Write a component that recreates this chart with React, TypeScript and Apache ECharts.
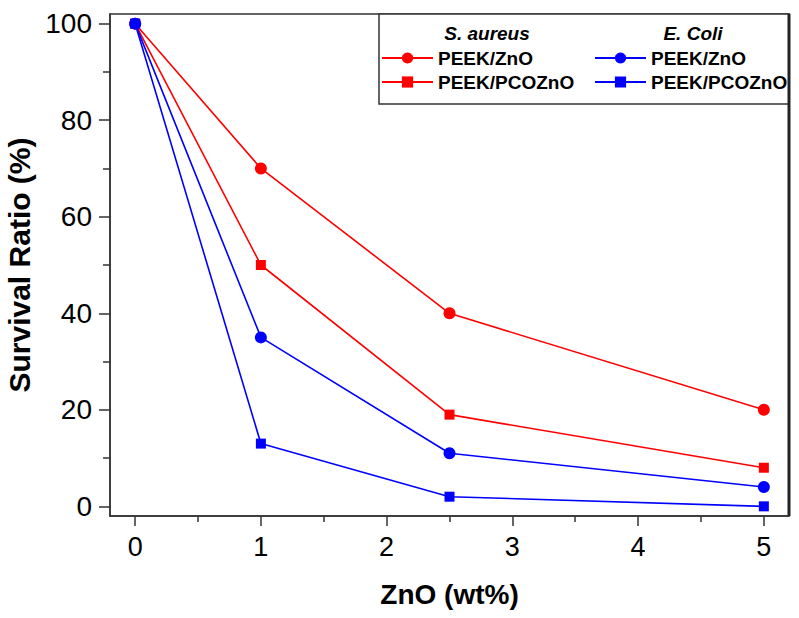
import React, { useEffect, useRef } from "react";
import * as echarts from "echarts";

const xValues = [0, 1, 2.5, 5];
const saZnO = [100, 70, 40, 20];
const saPCOZnO = [100, 50, 19, 8];
const ecZnO = [100, 35, 11, 4];
const ecPCOZnO = [100, 13, 2, 0];
const xMajorTicks = [0, 1, 2, 3, 4, 5];
const xMinorTicks = [0.5, 1.5, 2.5, 3.5, 4.5];
const yMajorTicks = [0, 20, 40, 60, 80, 100];
const yMinorTicks = [10, 30, 50, 70, 90];
const groupHeaders = ["S. aureus", "E. Coli"];

const FONT = "'Liberation Sans', Arial, Helvetica, sans-serif";
const AXIS_COLOR = "#333";

function pairs(ys: number[]) {
  return xValues.map((x, i) => [x, ys[i]]);
}

export default function App() {
  const ref = useRef<HTMLDivElement>(null);
  useEffect(() => {
    if (!ref.current) return;
    const chart = echarts.init(ref.current, null, { renderer: "svg" });
    const mk = (name: string, data: number[], color: string, symbol: string, size: number) => ({
      name,
      type: "line",
      data: pairs(data),
      symbol,
      symbolSize: size,
      lineStyle: { color, width: 1.6 },
      itemStyle: { color },
      z: 3,
    });
    const legendText = {
      fontFamily: FONT,
      fontSize: 19,
      fontWeight: "bold",
      color: "#000",
      lineHeight: 20,
    };
    const tickStyle = { color: AXIS_COLOR, width: 1.5 };
    chart.setOption({
      animation: false,
      grid: {
        left: 110,
        top: 14,
        right: 10,
        bottom: 102,
        show: true,
        borderColor: AXIS_COLOR,
        borderWidth: 1.5,
        containLabel: false,
        outerBoundsMode: "none",
      },
      xAxis: [
        {
          type: "value",
          min: -0.2,
          max: 5.2,
          name: "ZnO (wt%)",
          nameLocation: "middle",
          nameGap: 64,
          nameTextStyle: { fontFamily: FONT, fontSize: 28, fontWeight: "bold", color: "#000" },
          axisLine: { show: true, onZero: false, lineStyle: tickStyle },
          axisTick: { show: true, inside: false, length: 10, customValues: xMajorTicks, lineStyle: tickStyle },
          axisLabel: { customValues: xMajorTicks, margin: 17, fontFamily: FONT, fontSize: 27, color: "#000" },
          splitLine: { show: false },
        },
        {
          type: "value",
          min: -0.2,
          max: 5.2,
          position: "bottom",
          axisLine: { show: false, onZero: false },
          axisTick: { show: true, inside: false, length: 6, customValues: xMinorTicks, lineStyle: tickStyle },
          axisLabel: { show: false },
          splitLine: { show: false },
        },
      ],
      yAxis: [
        {
          type: "value",
          min: -2,
          max: 102,
          name: "Survival Ratio (%)",
          nameLocation: "middle",
          nameGap: 76,
          nameTextStyle: { fontFamily: FONT, fontSize: 30, fontWeight: "bold", color: "#000" },
          axisLine: { show: true, onZero: false, lineStyle: tickStyle },
          axisTick: { show: true, inside: false, length: 11, customValues: yMajorTicks, lineStyle: tickStyle },
          axisLabel: { customValues: yMajorTicks, margin: 18, fontFamily: FONT, fontSize: 28, color: "#000" },
          splitLine: { show: false },
        },
        {
          type: "value",
          min: -2,
          max: 102,
          position: "left",
          axisLine: { show: false, onZero: false },
          axisTick: { show: true, inside: false, length: 7, customValues: yMinorTicks, lineStyle: tickStyle },
          axisLabel: { show: false },
          splitLine: { show: false },
        },
      ],
      legend: [
        {
          data: ["S. aureus PEEK/ZnO", "S. aureus PEEK/PCOZnO"],
          orient: "vertical",
          left: 381,
          top: 48,
          itemWidth: 51,
          itemHeight: 14,
          itemGap: 4,
          padding: 0,
          formatter: (n: string) => n.replace("S. aureus ", ""),
          textStyle: legendText,
        },
        {
          data: ["E. Coli PEEK/ZnO", "E. Coli PEEK/PCOZnO"],
          orient: "vertical",
          left: 594,
          top: 48,
          itemWidth: 51,
          itemHeight: 14,
          itemGap: 4,
          padding: 0,
          formatter: (n: string) => n.replace("E. Coli ", ""),
          textStyle: legendText,
        },
      ],
      graphic: [
        {
          type: "rect",
          shape: { x: 379, y: 14, width: 410, height: 90 },
          style: { fill: "#fff", stroke: AXIS_COLOR, lineWidth: 1.5 },
          z: 1,
        },
        {
          type: "line",
          shape: { x1: 789, y1: 14, x2: 789, y2: 516 },
          style: { stroke: "#222", lineWidth: 3 },
          z: 10,
        },
        {
          type: "text",
          x: 487,
          y: 33,
          style: {
            text: groupHeaders[0],
            fontFamily: FONT,
            fontSize: 19,
            fontWeight: "bold",
            fontStyle: "italic",
            fill: "#000",
            align: "center",
            verticalAlign: "middle",
          },
          z: 10,
        },
        {
          type: "text",
          x: 693,
          y: 33,
          style: {
            text: groupHeaders[1],
            fontFamily: FONT,
            fontSize: 19,
            fontWeight: "bold",
            fontStyle: "italic",
            fill: "#000",
            align: "center",
            verticalAlign: "middle",
          },
          z: 10,
        },
      ],
      series: [
        mk("S. aureus PEEK/ZnO", saZnO, "#ff0000", "circle", 12),
        mk("S. aureus PEEK/PCOZnO", saPCOZnO, "#ff0000", "rect", 10),
        mk("E. Coli PEEK/ZnO", ecZnO, "#0000ff", "circle", 12),
        mk("E. Coli PEEK/PCOZnO", ecPCOZnO, "#0000ff", "rect", 10),
      ],
    });
    return () => chart.dispose();
  }, []);
  return <div ref={ref} style={{ width: 799, height: 618, position: "absolute", left: 0, top: 0 }} />;
}
